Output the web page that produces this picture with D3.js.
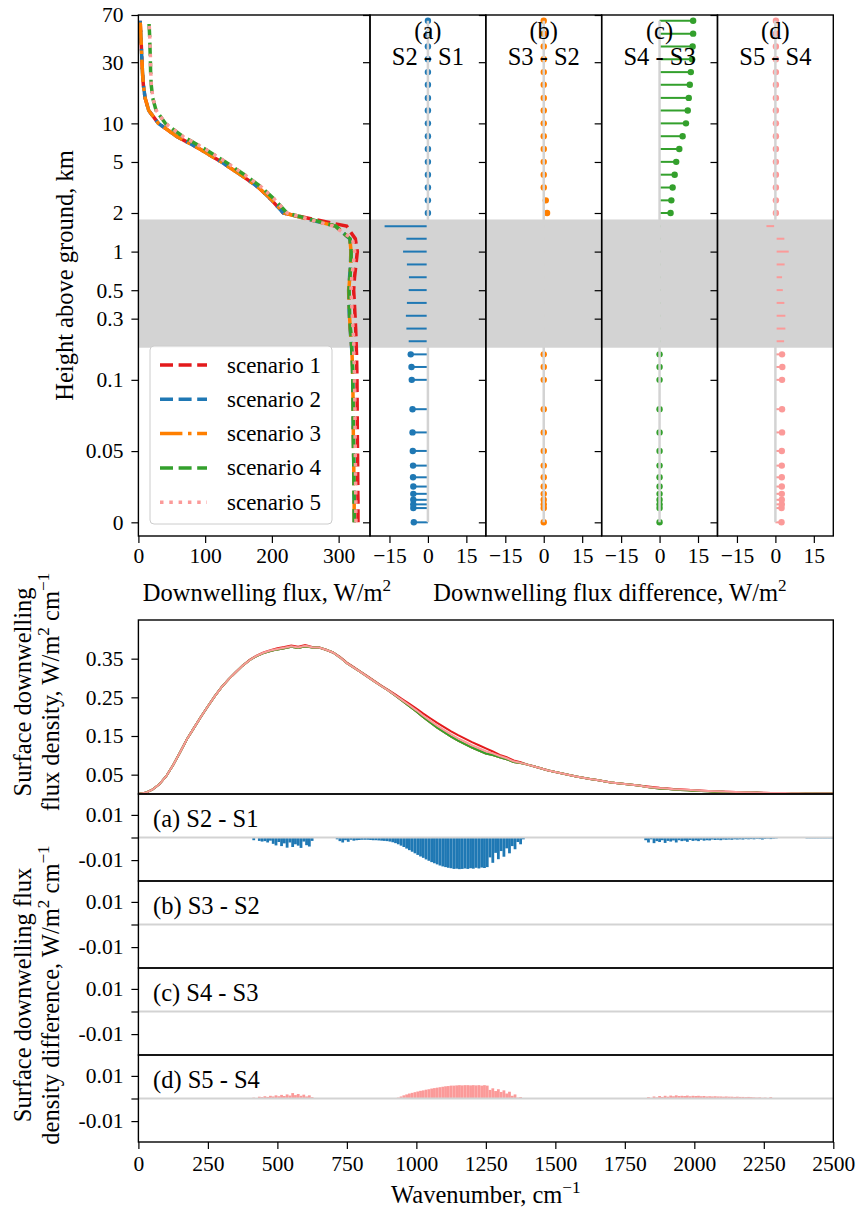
<!DOCTYPE html>
<html>
<head>
<meta charset="utf-8">
<script src="https://cdn.jsdelivr.net/npm/d3@7"></script>
<style>
  body { margin: 0; background: #fff; }
</style>
</head>
<body>
<script>
// ---------------- data ----------------
const scenarioNames = ["scenario 1", "scenario 2", "scenario 3", "scenario 4", "scenario 5"];
const scenarioColors = ["#e31a1c", "#1f78b4", "#ff7f00", "#33a02c", "#fb9a99"];
const scenarioDash = ["13,5.6", "13,5.6", "22.4,5.6,3.5,5.6", "13,5.6", "3.5,5.8"];

// model levels, km above ground
const heights = [0, 0.01, 0.0126, 0.0158, 0.02, 0.0251, 0.0316, 0.0398, 0.0501, 0.0631, 0.0794,
  0.1, 0.126, 0.158, 0.2, 0.251, 0.316, 0.398, 0.501, 0.631, 0.794,
  1, 1.26, 1.58, 2, 2.51, 3.16, 3.98, 5.01, 6.31, 7.94,
  10, 12.6, 15.8, 20, 25.1, 31.6, 39.8, 50.1, 63.1];

// downwelling flux of scenario 1 at each level, W/m2
const fluxS1 = [329.0, 329.0, 329.0, 329.0, 328.8, 328.8, 328.6, 328.5, 328.3, 328.0, 327.8,
  327.5, 327.2, 326.8, 326.2, 325.5, 324.6, 323.6, 322.5, 323.8, 326.0,
  328.0, 325.0, 312.0, 217.0, 200.0, 180.0, 153.0, 124.0, 92.0, 57.0,
  30.0, 15.5, 10.0, 7.4, 6.1, 5.2, 4.4, 3.6, 2.6];

// level-by-level differences between consecutive scenarios, W/m2
const diffS2S1 = [-5.5, -5.7, -5.7, -5.7, -5.7, -5.7, -5.8, -5.8, -5.9, -6.0, -6.0,
  -6.3, -6.4, -6.7, -7.5, -8.4, -8.6, -8.2, -7.5, -7.4, -8.2,
  -9.7, -8.4, -16.9, 0, 0, 0, 0, 0, 0, 0,
  0, 0, 0, 0, 0, 0, 0, 0, 0];
const diffS3S2 = [0, 0, 0, 0, 0, 0, 0, 0, 0, 0, 0,
  0, 0, 0, 0.3, 0.3, 0.3, 0.3, 0.3, 0.3, 0.3,
  0.3, 0.3, 0.3, 1.3, 0.8, 0, 0, 0, 0, 0,
  0, 0, 0, 0, 0, 0, 0, 0, 0];
const diffS4S3 = [0, 0, 0, 0, 0, 0, 0, 0, 0, 0, 0,
  0, 0, 0, 0.3, 0.3, 0.3, 0.3, 0.3, 0.3, 0.3,
  0.3, 0.3, 0.3, 4.3, 4.6, 5.1, 5.9, 6.5, 7.7, 9.0,
  10.3, 11.0, 11.4, 11.8, 12.2, 12.7, 12.9, 13.1, 13.1];
const diffS5S4 = [2.4, 2.4, 2.5, 2.5, 2.5, 2.5, 2.5, 2.5, 2.5, 2.6, 2.6,
  2.6, 2.7, 2.6, 3.4, 3.9, 3.9, 3.5, 2.9, 2.6, 3.6,
  5.2, 3.5, -3.5, 0.2, 0.2, 0.2, 0.2, 0.2, 0.2, 0.2,
  0.2, 0.2, 0.2, 0.2, 0.2, 0.2, 0.2, 0.2, 0.2];

const diffTitles = [["(a)", "S2 - S1"], ["(b)", "S3 - S2"], ["(c)", "S4 - S3"], ["(d)", "S5 - S4"]];
const cloudBase = 0.178, cloudTop = 1.78;

const heightTicks = [0, 0.05, 0.1, 0.3, 0.5, 1, 2, 5, 10, 30, 70];
const heightTickLabels = ["0", "0.05", "0.1", "0.3", "0.5", "1", "2", "5", "10", "30", "70"];
const fluxTicks = [0, 100, 200, 300];
const fluxDiffTicks = [-15, 0, 15];

// surface spectrum, scenario 1, every 25 cm-1 from 0 to 2500
const specS1 = [0.000, 0.003, 0.011, 0.025, 0.046, 0.075, 0.108, 0.142, 0.171, 0.200,
  0.227, 0.253, 0.277, 0.297, 0.315, 0.332, 0.347, 0.358, 0.366, 0.372,
  0.377, 0.380, 0.384, 0.381, 0.385, 0.380, 0.379, 0.373, 0.366, 0.355,
  0.340, 0.328, 0.316, 0.304, 0.292, 0.280, 0.269, 0.257, 0.245, 0.233,
  0.221, 0.208, 0.196, 0.184, 0.173, 0.162, 0.152, 0.143, 0.134, 0.126,
  0.118, 0.110, 0.101, 0.095, 0.087, 0.082, 0.076, 0.071, 0.066, 0.061,
  0.057, 0.053, 0.049, 0.045, 0.042, 0.039, 0.036, 0.033, 0.030, 0.028,
  0.026, 0.024, 0.022, 0.020, 0.018, 0.016, 0.015, 0.013, 0.012, 0.011,
  0.0098, 0.0088, 0.0079, 0.0071, 0.0064, 0.0057, 0.0051, 0.0046, 0.0041, 0.0037,
  0.0033, 0.0029, 0.0026, 0.0023, 0.0021, 0.0019, 0.0017, 0.0015, 0.0013, 0.0012,
  0.0011];
// how far scenarios 2-4 sit below scenario 1 on the same grid
const specDropS2 = [0, 0, 0, 0, 0, 0, 0, 0, 0, 0,
  0, 0, 0, 0, 0, 0, 0.001, 0.0015, 0.0017, 0.0022,
  0.003, 0.0032, 0.0034, 0.0036, 0.003, 0.0012, 0, 0, 0, 0.0016,
  0.0015, 0.0012, 0.001, 0.001, 0.0012, 0.0014, 0.0018, 0.0028, 0.0042, 0.006,
  0.0077, 0.0093, 0.0109, 0.0122, 0.0131, 0.0137, 0.014, 0.0138, 0.0138, 0.0135,
  0.0131, 0.009, 0.006, 0.005, 0.004, 0.002, 0, 0, 0, 0,
  0, 0, 0, 0, 0, 0, 0, 0, 0, 0,
  0, 0, 0, 0.0012, 0.0018, 0.0016, 0.0016, 0.0016, 0.0015, 0.0014,
  0.0013, 0.0012, 0.0011, 0.001, 0.0009, 0.0009, 0.0008, 0.0008, 0.0007, 0.0007,
  0.0006, 0.0006, 0, 0, 0, 0, 0.0004, 0.0004, 0.0004, 0.0004,
  0];
// how far scenario 5 sits above scenario 4
const specRiseS5 = [0, 0, 0, 0, 0, 0, 0, 0, 0, 0,
  0, 0, 0, 0, 0, 0, 0, 0.0008, 0.0009, 0.0011,
  0.0012, 0.0014, 0.0017, 0.0016, 0.0011, 0.0005, 0, 0, 0, 0,
  0, 0, 0, 0, 0, 0, 0, 0.0004, 0.0014, 0.0024,
  0.0031, 0.0037, 0.0044, 0.0049, 0.0054, 0.0057, 0.0059, 0.0059, 0.0059, 0.0058,
  0.0057, 0.0041, 0.0032, 0.0025, 0.0015, 0.0005, 0, 0, 0, 0,
  0, 0, 0, 0, 0, 0, 0, 0, 0, 0,
  0, 0, 0, 0, 0.0007, 0.0009, 0.001, 0.0011, 0.0012, 0.0011,
  0.0011, 0.001, 0.001, 0.0009, 0.0008, 0.0008, 0.0008, 0.0007, 0.0006, 0.0005,
  0.0004, 0.0004, 0, 0, 0, 0, 0, 0, 0, 0,
  0];

// spectral differences, 10 cm-1 bins: [first bin, values...]
const specBin = 10;
const specDiffA = [
  [410, [-0.0012, 0, -0.0015, -0.0018, -0.0016, -0.0022, -0.0014, -0.0028, -0.0035, -0.002,
    -0.0038, -0.0026, -0.0045, -0.0022, -0.0042, -0.003, -0.0036, -0.0046, -0.0018, -0.0034,
    -0.004, -0.0015]],
  [710, [-0.0008, -0.0016, -0.0022, -0.0012, -0.0019, -0.001, -0.0014, -0.0012, -0.0011, -0.001,
    -0.001, -0.001, -0.0011, -0.0012, -0.0012, -0.0013, -0.0014, -0.0015, -0.0016,
    -0.0018, -0.0021, -0.0025, -0.003, -0.0036, -0.0042, -0.0049, -0.0056, -0.0063, -0.007,
    -0.0077, -0.0084, -0.009, -0.0097, -0.0103, -0.0109, -0.0114, -0.0119, -0.0124, -0.0128,
    -0.0131, -0.0134, -0.0136, -0.0139, -0.0138, -0.014, -0.0139, -0.0137, -0.0139, -0.0136,
    -0.0138, -0.0134, -0.0137, -0.0133, -0.0135, -0.0131, -0.0088, -0.0112, -0.0068, -0.0096,
    -0.006, -0.0085, -0.0048, -0.007, -0.0038, -0.0052, -0.002, -0.003, -0.0008]],
  [1820, [-0.0012, -0.0022, -0.0008, -0.0025, -0.0016, -0.002, -0.0012, -0.0024, -0.0015, -0.0018,
    -0.0013, -0.0022, -0.0012, -0.0016, -0.0014, -0.0019, -0.0011, -0.0015, -0.0013, -0.0016,
    -0.001, -0.0014, -0.0012, -0.0013, -0.0009, -0.0011, -0.001, -0.0012, -0.0009, -0.001,
    -0.0009, -0.001, -0.0008, -0.0009, -0.0008, -0.0009, -0.0007, -0.0008, -0.0007, -0.0008,
    -0.0006, -0.0007, -0.0009, -0.0006, -0.0005, -0.0007, -0.0005, -0.0004]],
  [2400, [-0.0004, -0.0004, -0.0004, -0.0004, -0.0004, -0.0004, -0.0004, -0.0004, -0.0004, -0.0004]]
];
const specDiffB = [];
const specDiffC = [];
const specDiffD = [
  [410, [0.0004, 0, 0.0008, 0.0006, 0.001, 0.0007, 0.0012, 0.0009, 0.0014, 0.001,
    0.0016, 0.0011, 0.0018, 0.0013, 0.0024, 0.0015, 0.002, 0.0012, 0.0017, 0.0009,
    0.0014, 0.0006]],
  [930, [0.0004, 0.0009, 0.0014, 0.0018, 0.0022, 0.0025, 0.0028, 0.0031, 0.0034, 0.0036,
    0.0039, 0.0041, 0.0044, 0.0046, 0.0048, 0.005, 0.0052, 0.0054, 0.0055, 0.0057,
    0.0057, 0.0058, 0.0059, 0.0058, 0.0059, 0.0059, 0.0058, 0.0059, 0.0058, 0.0059,
    0.0057, 0.0059, 0.0057, 0.0038, 0.0045, 0.0033, 0.0041, 0.0029, 0.0036, 0.0022,
    0.003, 0.0012, 0.0018, 0.0004, 0.0006]],
  [1830, [0.0006, 0.0003, 0.0009, 0.0005, 0.0011, 0.0007, 0.0012, 0.0008, 0.0013, 0.001,
    0.0014, 0.0011, 0.0012, 0.0011, 0.0013, 0.001, 0.0012, 0.0011, 0.0012, 0.001,
    0.0011, 0.0009, 0.001, 0.0009, 0.001, 0.0009, 0.0009, 0.0008, 0.0009, 0.0008,
    0.0008, 0.0007, 0.0008, 0.0007, 0.0007, 0.0006, 0.0007, 0.0006, 0.0005, 0.0004,
    0.0005, 0.0003, 0.0004, 0.0002, 0.0006, 0.0002]]
];
const specDiffLabels = ["(a) S2 - S1", "(b) S3 - S2", "(c) S4 - S3", "(d) S5 - S4"];
const specTicks = [0.05, 0.15, 0.25, 0.35];
const specDiffTicks = [0.01, 0, -0.01];
const wavenumberTicks = [0, 250, 500, 750, 1000, 1250, 1500, 1750, 2000, 2250, 2500];

// ---------------- layout ----------------
const W = 861, H = 1220;
const plotL = 138.4, fluxR = 370, plotR = 833.3;
const topT = 15, topB = 536;
const diffW = (plotR - fluxR) / 4;
const specT = 620, specB = 794, diffH = 87;
const tickFont = 21.5, labelFont = 24.5;
const serif = '"Liberation Serif", serif';

const svg = d3.select("body").append("svg")
  .attr("width", W).attr("height", H);

function styleAxis(g) {
  g.attr("font-family", null).attr("font-size", null);
  g.select(".domain").remove();
  g.selectAll(".tick line").attr("stroke", "#000").attr("stroke-width", 1.2);
  g.selectAll(".tick text").attr("font-size", tickFont).attr("fill", "#000");
}

// text with superscripts: parts = [[text, isSuper], ...]
function richText(t, parts, size) {
  let shift = 0;
  parts.forEach(([txt, sup]) => {
    const target = sup ? -size * 0.42 : 0;
    const s = t.append("tspan").text(txt).attr("dy", target - shift);
    if (sup) s.attr("font-size", size * 0.7);
    shift = target;
  });
}

// matplotlib-like symlog (linear below 0.1 km)
const linThresh = 0.1, linSpan = 1 / (1 - 1 / 10);
const symlog = h => Math.abs(h) <= linThresh ? h / linThresh * linSpan
  : Math.sign(h) * (linSpan + Math.log10(Math.abs(h) / linThresh));
const yT = d3.scaleLinear().domain([symlog(-0.0096), symlog(70)]).range([topB, topT]);
const yH = h => yT(symlog(h));

// ---------------- top: profiles ----------------
svg.append("rect")
  .attr("x", plotL).attr("width", plotR - plotL)
  .attr("y", yH(cloudTop)).attr("height", yH(cloudBase) - yH(cloudTop))
  .attr("fill", "#d3d3d3");

const xF = d3.scaleLinear().domain([0, 347]).range([plotL, fluxR]);
const diffs = [diffS2S1, diffS3S2, diffS4S3, diffS5S4];
const profiles = [fluxS1];
diffs.forEach((d, i) => profiles.push(profiles[i].map((v, j) => v + d[j])));

svg.append("clipPath").attr("id", "clipF").append("rect")
  .attr("x", plotL).attr("y", topT).attr("width", fluxR - plotL).attr("height", topB - topT);

const profLine = d3.line().x(d => xF(d[0])).y(d => yH(d[1]));
const gF = svg.append("g").attr("clip-path", "url(#clipF)");
profiles.forEach((p, i) => {
  gF.append("path")
    .datum(p.map((v, j) => [v, heights[j]]))
    .attr("d", profLine)
    .attr("fill", "none")
    .attr("stroke", scenarioColors[i])
    .attr("stroke-width", 3.5)
    .attr("stroke-dasharray", scenarioDash[i]);
});

// legend
const lg = svg.append("g");
lg.append("rect").attr("x", 150).attr("y", 346).attr("width", 182).attr("height", 178)
  .attr("rx", 4).attr("fill", "#fff").attr("fill-opacity", 0.8)
  .attr("stroke", "#cccccc").attr("stroke-width", 1);
scenarioNames.forEach((name, i) => {
  const yy = 365 + i * 34.3;
  lg.append("line").attr("x1", 160).attr("x2", 207).attr("y1", yy).attr("y2", yy)
    .attr("stroke", scenarioColors[i]).attr("stroke-width", 3.5)
    .attr("stroke-dasharray", scenarioDash[i]);
  lg.append("text").attr("x", 227).attr("y", yy).attr("dy", "0.33em")
    .attr("font-size", 23).text(name);
});

// axes of profile panel
styleAxis(svg.append("g").attr("transform", `translate(${plotL},0)`)
  .call(d3.axisLeft(yT).tickValues(heightTicks.map(symlog))
    .tickFormat((d, i) => heightTickLabels[i]).tickSize(7).tickPadding(8).tickSizeOuter(0)));
styleAxis(svg.append("g").attr("transform", `translate(0,${topB})`)
  .call(d3.axisBottom(xF).tickValues(fluxTicks).tickSize(7).tickPadding(5).tickSizeOuter(0)));

// difference (stem) panels
diffs.forEach((d, i) => {
  const x0 = fluxR + i * diffW;
  const xD = d3.scaleLinear().domain([-22.6, 22.6]).range([x0, x0 + diffW]);
  const g = svg.append("g");
  const c = scenarioColors[i + 1];
  const pts = d.map((v, j) => ({ v, h: heights[j] }));
  g.selectAll("line.stem").data(pts).join("line")
    .attr("class", "stem")
    .attr("x1", xD(0)).attr("x2", p => xD(p.v))
    .attr("y1", p => yH(p.h)).attr("y2", p => yH(p.h))
    .attr("stroke", c).attr("stroke-width", 2);
  g.selectAll("circle").data(pts.filter(p => p.h < cloudBase || p.h > cloudTop)).join("circle")
    .attr("cx", p => xD(p.v)).attr("cy", p => yH(p.h)).attr("r", 3.2)
    .attr("fill", c);
  g.append("line")
    .attr("x1", xD(0)).attr("x2", xD(0))
    .attr("y1", yH(d3.min(heights))).attr("y2", yH(d3.max(heights)))
    .attr("stroke", "#d3d3d3").attr("stroke-width", 2.5);

  styleAxis(svg.append("g").attr("transform", `translate(${x0},0)`)
    .call(d3.axisLeft(yT).tickValues(heightTicks.map(symlog)).tickFormat("")
      .tickSize(7).tickSizeOuter(0)));
  styleAxis(svg.append("g").attr("transform", `translate(0,${topB})`)
    .call(d3.axisBottom(xD).tickValues(fluxDiffTicks).tickSize(7).tickPadding(5).tickSizeOuter(0)));

  const tx = xD(0);
  svg.append("text").attr("x", tx).attr("y", 39).attr("text-anchor", "middle")
    .attr("font-size", labelFont).text(diffTitles[i][0]);
  svg.append("text").attr("x", tx).attr("y", 65).attr("text-anchor", "middle")
    .attr("font-size", labelFont).text(diffTitles[i][1]);
  svg.append("rect").attr("x", x0).attr("y", topT).attr("width", diffW).attr("height", topB - topT)
    .attr("fill", "none").attr("stroke", "#000").attr("stroke-width", 1.4);
});
svg.append("rect").attr("x", plotL).attr("y", topT).attr("width", fluxR - plotL).attr("height", topB - topT)
  .attr("fill", "none").attr("stroke", "#000").attr("stroke-width", 1.4);

// top labels
svg.append("g").attr("transform", `translate(73,${(topT + topB) / 2}) rotate(-90)`)
  .append("text").attr("text-anchor", "middle")
  .attr("font-size", labelFont).text("Height above ground, km");
richText(svg.append("text").attr("x", 267).attr("y", 601)
  .attr("text-anchor", "middle").attr("font-size", labelFont),
  [["Downwelling flux, W/m", false], ["2", true]], labelFont);
richText(svg.append("text").attr("x", 610).attr("y", 601)
  .attr("text-anchor", "middle").attr("font-size", labelFont),
  [["Downwelling flux difference, W/m", false], ["2", true]], labelFont);

// ---------------- bottom: spectra ----------------
const xW = d3.scaleLinear().domain([0, 2500]).range([plotL, plotR]);
const yS = d3.scaleLinear().domain([0, 0.45]).range([specB, specT]);
const specWn = specS1.map((v, i) => i * 25);
const specS2 = specS1.map((v, i) => v - specDropS2[i]);
const specS5 = specS2.map((v, i) => v + specRiseS5[i]);
const specLines = [specS1, specS2, specS2, specS2, specS5];

svg.append("clipPath").attr("id", "clipS").append("rect")
  .attr("x", plotL).attr("y", specT).attr("width", plotR - plotL).attr("height", specB - specT);
const specLine = d3.line().x(d => xW(d[0])).y(d => yS(d[1]));
const gS = svg.append("g").attr("clip-path", "url(#clipS)");
specLines.forEach((s, i) => {
  gS.append("path").datum(s.map((v, j) => [specWn[j], v]))
    .attr("d", specLine).attr("fill", "none")
    .attr("stroke", scenarioColors[i]).attr("stroke-width", 2);
});
styleAxis(svg.append("g").attr("transform", `translate(${plotL},0)`)
  .call(d3.axisLeft(yS).tickValues(specTicks).tickFormat(d3.format(".2f"))
    .tickSize(7).tickPadding(8).tickSizeOuter(0)));
svg.append("rect").attr("x", plotL).attr("y", specT).attr("width", plotR - plotL).attr("height", specB - specT)
  .attr("fill", "none").attr("stroke", "#000").attr("stroke-width", 1.4);

const specDiffs = [specDiffA, specDiffB, specDiffC, specDiffD];
specDiffs.forEach((segs, i) => {
  const top = specB + i * diffH;
  const yD = d3.scaleLinear().domain([-0.01925, 0.01925]).range([top + diffH, top]);
  const bars = [];
  segs.forEach(([start, vals]) => vals.forEach((v, k) => bars.push({ wn: start + k * specBin, v })));
  const g = svg.append("g");
  g.selectAll("rect").data(bars).join("rect")
    .attr("x", b => xW(b.wn))
    .attr("width", b => xW(b.wn + specBin) - xW(b.wn))
    .attr("y", b => Math.min(yD(b.v), yD(0)))
    .attr("height", b => Math.abs(yD(b.v) - yD(0)))
    .attr("fill", scenarioColors[i + 1]);
  g.append("line").attr("x1", plotL).attr("x2", plotR).attr("y1", yD(0)).attr("y2", yD(0))
    .attr("stroke", "#d3d3d3").attr("stroke-width", 2);
  styleAxis(svg.append("g").attr("transform", `translate(${plotL},0)`)
    .call(d3.axisLeft(yD).tickValues(specDiffTicks)
      .tickFormat(d => d === 0 ? "" : (d > 0 ? "0.01" : "-0.01"))
      .tickSize(7).tickPadding(8).tickSizeOuter(0)));
  svg.append("text").attr("x", 153).attr("y", top + 33)
    .attr("font-size", labelFont)
    .text(specDiffLabels[i]);
  svg.append("rect").attr("x", plotL).attr("y", top).attr("width", plotR - plotL).attr("height", diffH)
    .attr("fill", "none").attr("stroke", "#000").attr("stroke-width", 1.4);
});

const bottom = specB + 4 * diffH;
styleAxis(svg.append("g").attr("transform", `translate(0,${bottom})`)
  .call(d3.axisBottom(xW).tickValues(wavenumberTicks).tickFormat(d3.format("d"))
    .tickSize(7).tickPadding(7).tickSizeOuter(0)));
richText(svg.append("text").attr("x", (plotL + plotR) / 2).attr("y", bottom + 61)
  .attr("text-anchor", "middle").attr("font-size", labelFont),
  [["Wavenumber, cm", false], ["\u22121", true]], labelFont);

// y labels of the spectral panels (two lines each)
function twoLineLabel(cy, line1, line2) {
  const g = svg.append("g").attr("transform", `translate(0,${cy}) rotate(-90)`);
  richText(g.append("text").attr("x", 0).attr("y", 31).attr("text-anchor", "middle")
    .attr("font-size", labelFont), line1, labelFont);
  richText(g.append("text").attr("x", 0).attr("y", 59).attr("text-anchor", "middle")
    .attr("font-size", labelFont), line2, labelFont);
}
twoLineLabel(692, [["Surface downwelling", false]],
  [["flux density, W/m", false], ["2", true], [" cm", false], ["\u22121", true]]);
twoLineLabel(995, [["Surface downwelling flux", false]],
  [["density difference, W/m", false], ["2", true], [" cm", false], ["\u22121", true]]);

// serif everywhere
svg.selectAll("text").style("font-family", serif).style("fill", "#000");
</script>
</body>
</html>
